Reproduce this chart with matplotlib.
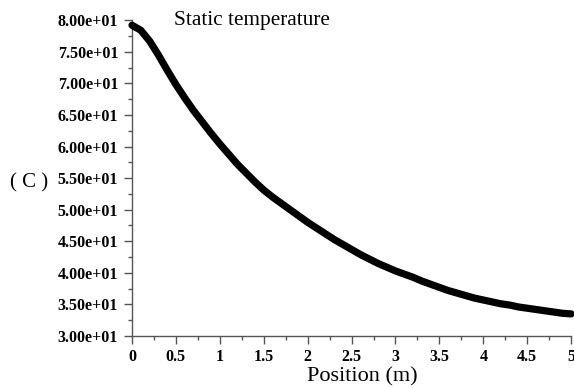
import matplotlib
matplotlib.use("Agg")
import matplotlib.pyplot as plt
from matplotlib.ticker import MultipleLocator, FormatStrFormatter, FuncFormatter

position = [0.0, 0.1, 0.2, 0.3, 0.4, 0.5, 0.6, 0.7, 0.8, 0.9,
            1.0, 1.1, 1.2, 1.3, 1.4, 1.5, 1.6, 1.7, 1.8, 1.9,
            2.0, 2.1, 2.2, 2.3, 2.4, 2.5, 2.6, 2.7, 2.8, 2.9,
            3.0, 3.1, 3.2, 3.3, 3.4, 3.5, 3.6, 3.7, 3.8, 3.9,
            4.0, 4.1, 4.2, 4.3, 4.4, 4.5, 4.6, 4.7, 4.8, 4.9, 5.0]
temperature = [79.2, 78.4, 76.7, 74.5, 72.1, 69.8, 67.7, 65.7, 63.9, 62.1,
               60.4, 58.8, 57.2, 55.8, 54.4, 53.1, 52.0, 51.0, 50.0, 49.0,
               48.0, 47.1, 46.2, 45.3, 44.5, 43.7, 42.9, 42.2, 41.5, 40.9,
               40.3, 39.8, 39.3, 38.7, 38.2, 37.7, 37.2, 36.8, 36.4, 36.0,
               35.7, 35.4, 35.1, 34.9, 34.6, 34.4, 34.2, 34.0, 33.8, 33.6, 33.5]

title_text = "Static temperature"
ylabel_text = "( C )"
xlabel_text = "Position (m)"

fig = plt.figure(figsize=(5.74, 3.88), dpi=100)
ax = fig.add_axes([0.23, 0.134, 0.765, 0.814])

ax.plot(position, temperature, color="black", lw=5.2, solid_capstyle="round",
        solid_joinstyle="round", clip_on=False, zorder=3)

ax.set_xlim(0, 5)
ax.set_ylim(30, 80)

for s in ["top", "right"]:
    ax.spines[s].set_visible(False)
for s in ["left", "bottom"]:
    ax.spines[s].set_color("#555555")
    ax.spines[s].set_linewidth(1.0)

ax.xaxis.set_major_locator(MultipleLocator(0.5))
ax.xaxis.set_minor_locator(MultipleLocator(0.25))
ax.yaxis.set_major_locator(MultipleLocator(5))
ax.yaxis.set_minor_locator(MultipleLocator(2.5))
ax.yaxis.set_major_formatter(FormatStrFormatter("%.2e"))
ax.xaxis.set_major_formatter(FuncFormatter(lambda v, p: f"{v:g}"))

ax.tick_params(which="major", direction="out", length=6, width=1, color="#555555",
               pad=4)
ax.tick_params(which="minor", direction="out", length=3, width=1, color="#555555")
ax.tick_params(axis="x", which="major", pad=3)

for lab in ax.get_xticklabels() + ax.get_yticklabels():
    lab.set_fontfamily("Liberation Serif")
    lab.set_fontweight("bold")
    lab.set_fontsize(11.5)

fig.text(174 / 574, 1 - 20 / 388, title_text, family="Liberation Serif",
         fontsize=15.3, ha="left", va="center")
fig.text(29 / 574, 1 - 183 / 388, ylabel_text, family="Liberation Serif",
         fontsize=15, ha="center", va="center")
fig.text(362 / 574, 1 - 377 / 388, xlabel_text, family="Liberation Serif",
         fontsize=16, ha="center", va="center")

fig.savefig("out.png", dpi=100)
